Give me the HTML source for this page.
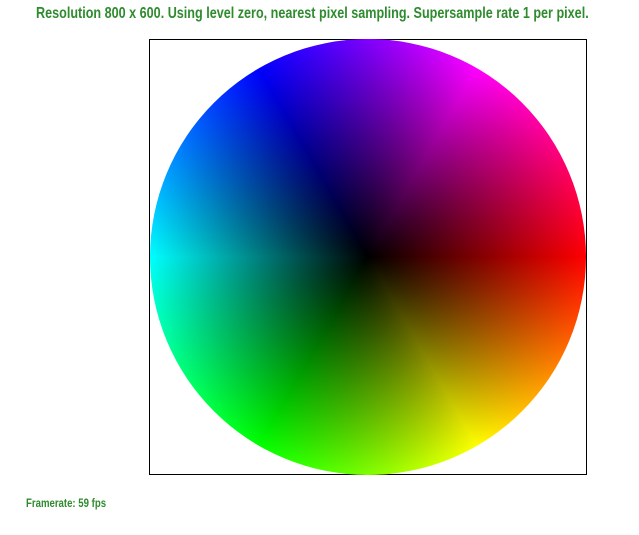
<!DOCTYPE html>
<html><head><meta charset="utf-8"><style>
html,body{margin:0;padding:0;background:#fff;width:639px;height:535px;overflow:hidden;position:relative}
#title{position:absolute;left:36px;top:5px;width:553px;font:bold 16px "Liberation Sans",sans-serif;color:#2e8b2e;white-space:nowrap;transform-origin:0 0;}
#frame{position:absolute;left:149px;top:39px;width:436px;height:434px;border:1px solid #000;}
#wheel{position:absolute;left:150px;top:39px;width:436px;height:436px;border-radius:50%;
background:radial-gradient(circle closest-side,#000 0%,rgba(0,0,0,0) 100%),conic-gradient(from 90deg,#f00,#ff0,#0f0,#0ff,#00f,#f0f,#f00);}
#fps{position:absolute;left:26px;top:496px;font:bold 12px "Liberation Sans",sans-serif;color:#2e8b2e;transform:scaleX(0.8);transform-origin:0 0;white-space:nowrap}
</style></head><body>
<div id="title">Resolution 800 x 600. Using level zero, nearest pixel sampling. Supersample rate 1 per pixel.</div>
<div id="frame"></div>
<div id="wheel"></div>
<div id="fps">Framerate: 59 fps</div>
<script>
var t=document.getElementById('title');
var w=t.scrollWidth;t.style.transform='scaleX('+(553/w)+')';
</script>
</body></html>
